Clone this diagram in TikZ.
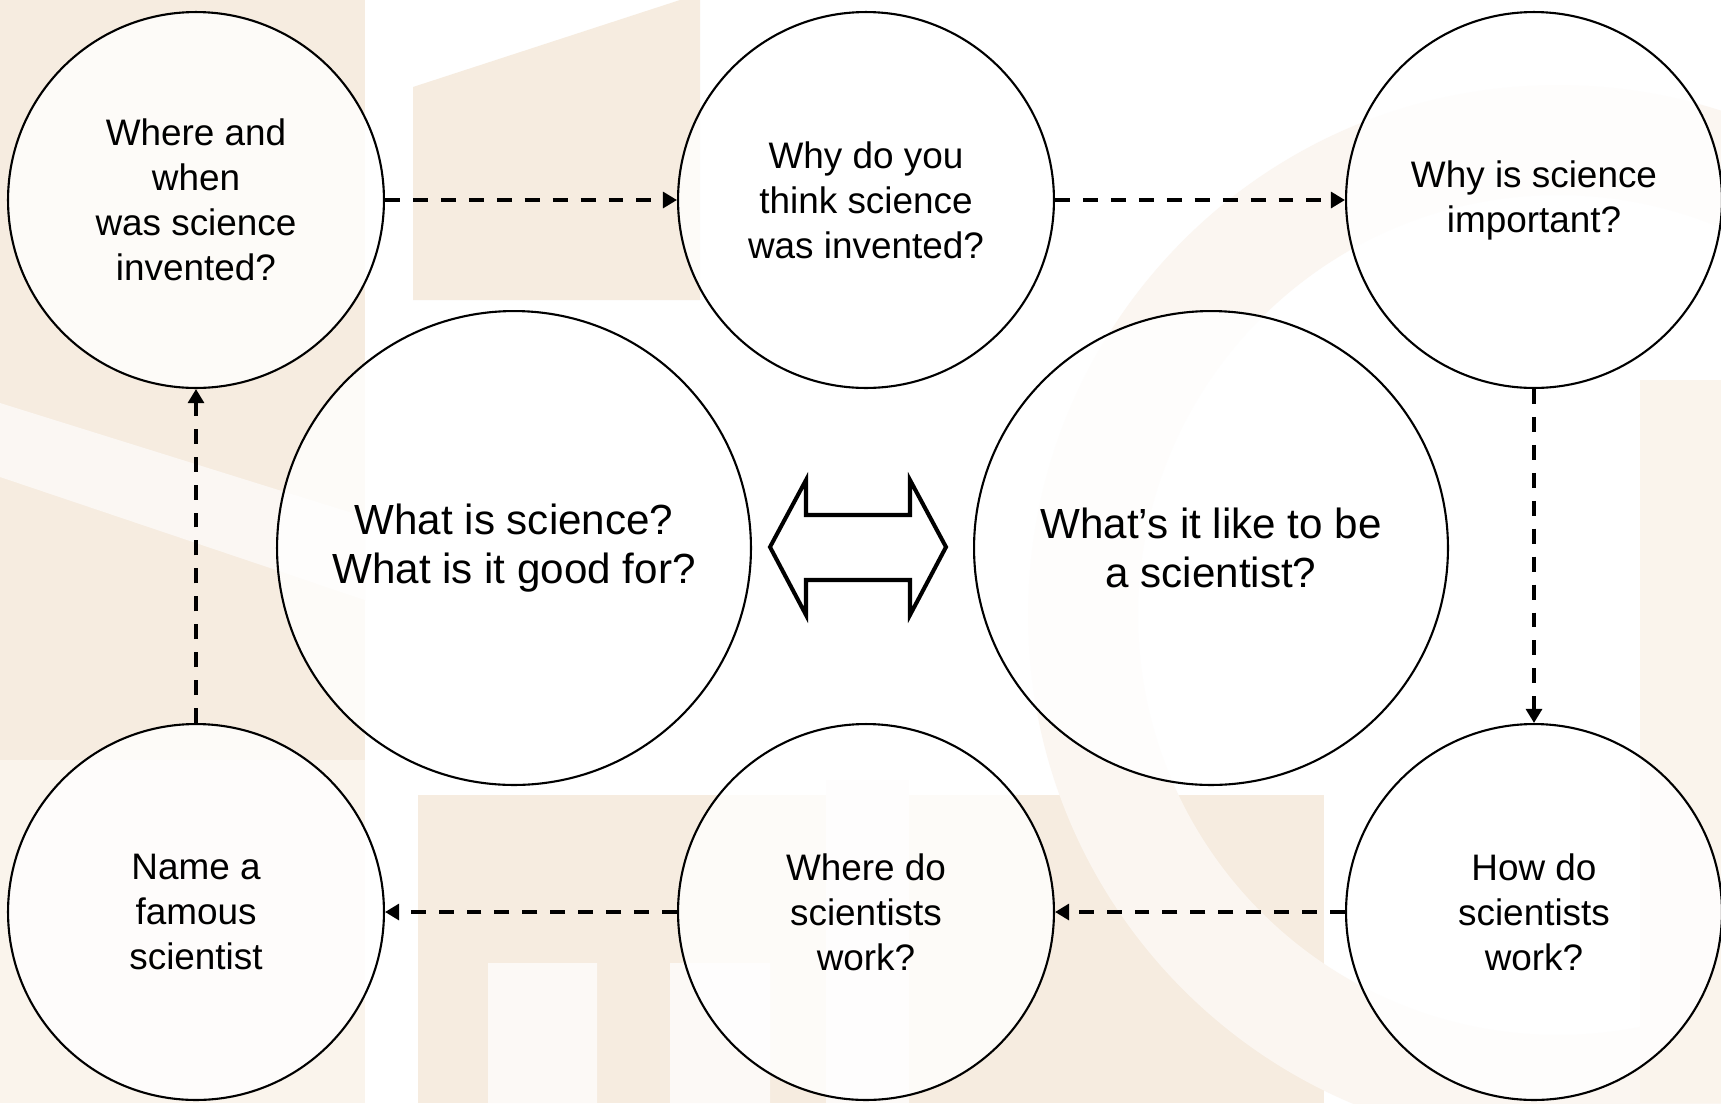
\documentclass[tikz,border=0pt]{standalone}
\usepackage{fontspec}
\setmainfont{Liberation Sans}
\usetikzlibrary{arrows.meta}
\definecolor{wmbeige}{RGB}{246,236,224}
\begin{document}
\begin{tikzpicture}[x=0.02cm, y=-0.02cm,
    question/.style={circle, draw, line width=1.2pt, fill=white, fill opacity=0.8,
      text opacity=1, inner sep=0pt, minimum size=7.52cm, align=center,
      font=\fontsize{21}{25.6}\selectfont},
    bigquestion/.style={question, minimum size=9.48cm, font=\fontsize{24}{28}\selectfont},
    flow/.style={line width=2pt, dash pattern=on 8.5pt off 7.4pt,
      -{Triangle[length=8pt,width=9pt]}}]
  \useasboundingbox (0,0) rectangle (1721,1103);
  % faint watermark behind everything
  \begin{scope}
    \clip (0,0) rectangle (1721,1103);
    \fill[white] (0,0) rectangle (1721,1103);
    \fill[wmbeige] (0,0) rectangle (365,760);
    \fill[white!40!wmbeige] (0,760) rectangle (365,1103);
    \fill[white!60!wmbeige] (0,403) -- (365,517) -- (365,600) -- (0,477) -- cycle;
    \fill[wmbeige] (413,87) -- (680,0) -- (700,0) -- (700,300) -- (413,300) -- cycle;
    \fill[wmbeige] (418,795) rectangle (1324,1103);
    \fill[white!70!wmbeige] (826,780) rectangle (909,1103);
    \fill[white!70!wmbeige] (488,963) rectangle (597,1103) (670,963) rectangle (770,1103);
    \fill[white!55!wmbeige, even odd rule] (1558,615) circle (10.6cm) (1558,615) circle (8.4cm);
    \fill[white!40!wmbeige] (1640,380) rectangle (1721,1103);
  \end{scope}
  \node[question] (0) at (196,200) {Where and\\when\\was science\\invented?};
  \node[question] (1) at (866,200) {Why do you\\think science\\was invented?};
  \node[question] (2) at (1534,200) {Why is science\\important?};
  \node[question] (3) at (1534,912) {How do\\scientists\\work?};
  \node[question] (4) at (866,912) {Where do\\scientists\\work?};
  \node[question] (5) at (196,912) {Name a\\famous\\scientist};
  \node[bigquestion] (6) at (514,548) {What is science?\\What is it good for?};
  \node[bigquestion] (7) at (1211,548) {What’s it like to be\\a scientist?};
  % two-headed block arrow between the big circles
  \draw[line width=2.3pt, fill=white, fill opacity=0.6]
    (770,547) -- (806,480) -- (806,515) -- (910,515) -- (910,480) -- (946,547)
    -- (910,615) -- (910,580) -- (806,580) -- (806,615) -- cycle;
  \begin{scope}[flow]
    \draw (0) to (1);
    \draw (1) to (2);
    \draw (2) to (3);
    \draw (3) to (4);
    \draw (4) to (5);
    \draw (5) to (0);
  \end{scope}
\end{tikzpicture}
\end{document}
